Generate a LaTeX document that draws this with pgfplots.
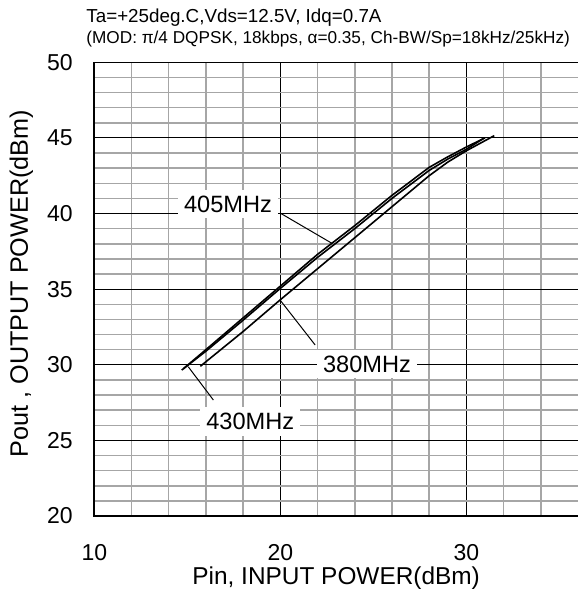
\documentclass[border=0pt]{standalone}
\usepackage{pgfplots}
\pgfplotsset{compat=1.18}
\usepackage{fontspec}
\setmainfont{Liberation Sans}
\begin{document}
\begin{tikzpicture}
\useasboundingbox (-47.15pt,-36.5pt) rectangle (241.85pt,258pt);
\begin{axis}[
  at={(0,0)}, anchor=south west,
  scale only axis,
  width=241.85pt, height=226.85pt,
  xmin=10, xmax=36, ymin=20, ymax=50,
  xtick={10,20,30}, ytick={20,25,30,35,40,45,50},
  minor xtick={12,14,16,18,22,24,26,28,32,34},
  minor ytick={21,22,23,24,26,27,28,29,31,32,33,34,36,37,38,39,41,42,43,44,46,47,48,49},
  grid=both,
  major grid style={black, line width=0.5pt},
  minor grid style={gray!70, line width=0.75pt},
  major tick length=0pt, minor tick length=0pt,
  axis line style={draw=none},
  /pgf/number format/assume math mode=true,
  tick label style={font=\fontsize{11.5}{13}\selectfont},
  xticklabel style={anchor=center, yshift=-18.5pt},
  yticklabel style={anchor=center, xshift=-17.15pt},
  xlabel={Pin, INPUT POWER(dBm)},
  ylabel={Pout , OUTPUT POWER(dBm)},
  xlabel style={font=\fontsize{12.2}{14}\selectfont, at={(axis description cs:0.5,0)}, anchor=base, yshift=-34.2pt},
  ylabel style={font=\fontsize{12.6}{14}\selectfont, at={(axis description cs:-0.151,0.512)}, anchor=center, rotate=0},
  clip=false,
]
\addplot[black, line width=0.8pt] coordinates {
(14.8,29.75) (16,31.0) (18,33.1) (20,35.2) (22,37.3) (24,39.2) (26,41.2) (28,43.05) (29,43.75) (30,44.4) (31,45.0)};
\addplot[black, line width=0.8pt] coordinates {
(14.7,29.65) (16,30.9) (18,32.95) (20,35.05) (22,37.1) (24,39.0) (26,41.0) (28,42.85) (29,43.6) (30,44.25) (30.9,44.95)};
\addplot[black, line width=0.8pt] coordinates {
(15.7,29.9) (16,30.2) (18,32.2) (20,34.3) (22,36.35) (24,38.4) (26,40.45) (28,42.5) (29,43.4) (30,44.15) (31.5,45.15)};
\draw[black, line width=0.5pt] (axis cs:19.98,40.04) -- (axis cs:22.76,38.04);
\draw[black, line width=0.5pt] (axis cs:21.87,31.31) -- (axis cs:19.98,34.29);
\draw[black, line width=0.5pt] (axis cs:16.40,27.67) -- (axis cs:15.05,29.87);
\node[fill=white, inner sep=3pt, font=\fontsize{11.8}{13}\selectfont] at (axis cs:17.19,40.63) {405MHz};
\node[fill=white, inner sep=3pt, font=\fontsize{11.8}{13}\selectfont] at (axis cs:24.66,30.05) {380MHz};
\node[fill=white, inner sep=3pt, font=\fontsize{11.8}{13}\selectfont] at (axis cs:18.38,26.25) {430MHz};
\draw[black, line width=0.9pt] (rel axis cs:0,1) -- (rel axis cs:0,0) -- (rel axis cs:1,0);
\end{axis}
\node[anchor=base west, inner sep=0pt, font=\fontsize{9.4}{11}\selectfont] at (-4.15pt,246.65pt) {Ta=+25deg.C,Vds=12.5V, Idq=0.7A};
\node[anchor=base west, inner sep=0pt, font=\fontsize{8.6}{10}\selectfont] at (-4.15pt,236.35pt) {(MOD: π/4 DQPSK, 18kbps, α=0.35, Ch-BW/Sp=18kHz/25kHz)};
\end{tikzpicture}
\end{document}
